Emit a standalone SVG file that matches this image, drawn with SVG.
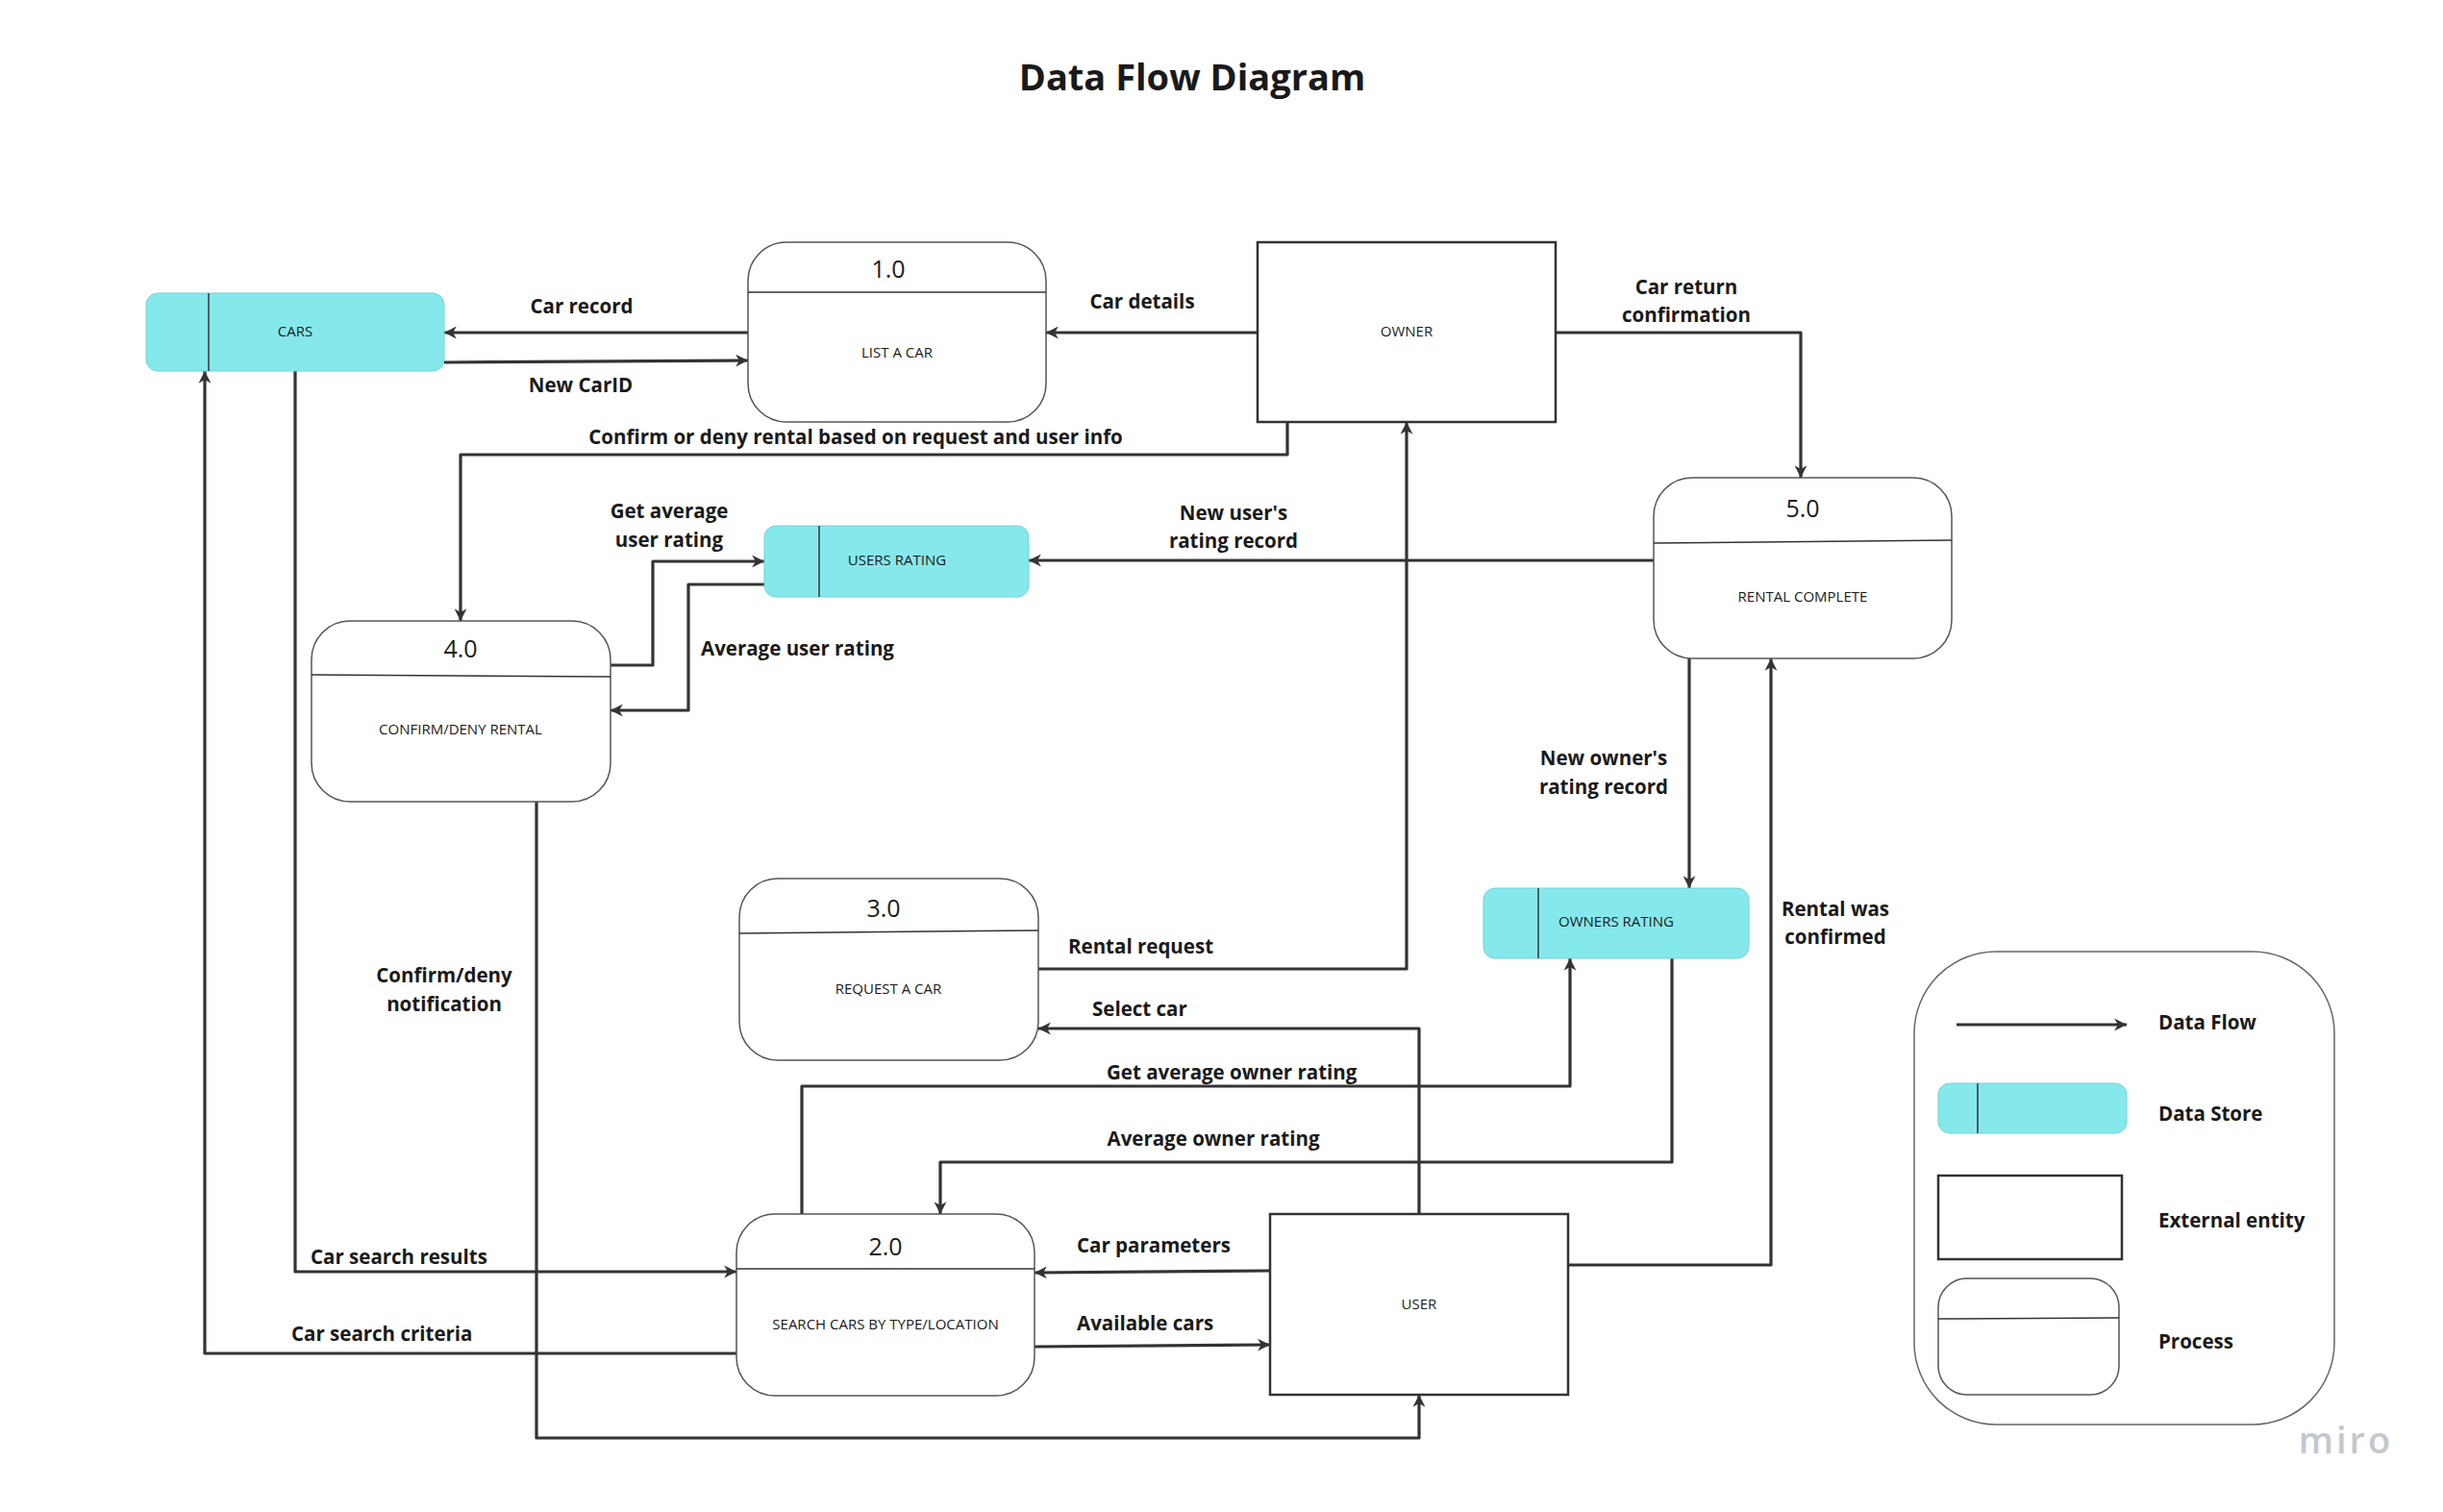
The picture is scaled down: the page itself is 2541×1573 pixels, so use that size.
<svg xmlns="http://www.w3.org/2000/svg" width="2541" height="1573" viewBox="0 0 2541 1573">
<defs>
<marker id="arr" viewBox="0 0 14 14" markerUnits="userSpaceOnUse" markerWidth="15" markerHeight="15" refX="13" refY="7" orient="auto">
<path d="M1,1 L13,7 L1,13 L4.5,7 Z" fill="#333"/>
</marker>
</defs>
<style>
.flow{fill:none;stroke:#333;stroke-width:3.2;stroke-linejoin:round;marker-end:url(#arr)}
.proc{fill:#fff;stroke:#555;stroke-width:1.5}
.div{stroke:#333;stroke-width:1.5}
.ent{fill:#fff;stroke:#333;stroke-width:2.5}
.store{fill:#85e9ec;stroke:#6fd3d8;stroke-width:1}
.num{font-family:"Open Sans","Noto Sans",sans-serif;font-size:25px;fill:#1a1a1a;text-anchor:middle}
.nl{font-family:"Open Sans","Noto Sans",sans-serif;font-size:15px;fill:#1a1a1a;text-anchor:middle}
.lb{font-family:"Open Sans","Noto Sans",sans-serif;font-size:20.5px;font-weight:bold;fill:#1a1a1a}
.c{text-anchor:middle}
</style>
<rect width="2541" height="1573" fill="#fff"/>
<text x="1240" y="94" font-family="'Open Sans','Noto Sans',sans-serif" font-size="38" font-weight="bold" fill="#1a1a1a" text-anchor="middle">Data Flow Diagram</text>

<g id="connectors">
<path class="flow" d="M778,346 L462,346"/>
<path class="flow" d="M462,377 L778,375"/>
<path class="flow" d="M1308,346 L1088,346"/>
<path class="flow" d="M1618,346 L1873,346 L1873,497"/>
<path class="flow" d="M1339,439 L1339,473 L479,473 L479,646"/>
<path class="flow" d="M1720,583 L1070,583"/>
<path class="flow" d="M635,692 L679,692 L679,584 L795,584"/>
<path class="flow" d="M795,608 L716,608 L716,739 L635,739"/>
<path class="flow" d="M1080,1008 L1463,1008 L1463,439"/>
<path class="flow" d="M1476,1263 L1476,1070 L1080,1070"/>
<path class="flow" d="M834,1263 L834,1130 L1633,1130 L1633,997"/>
<path class="flow" d="M1739,997 L1739,1209 L978,1209 L978,1263"/>
<path class="flow" d="M1757,685 L1757,924"/>
<path class="flow" d="M1631,1316 L1842,1316 L1842,685"/>
<path class="flow" d="M307,386 L307,1323 L766,1323"/>
<path class="flow" d="M766,1408 L213,1408 L213,386"/>
<path class="flow" d="M1321,1322 L1076,1324"/>
<path class="flow" d="M1076,1401 L1321,1399"/>
<path class="flow" d="M558,834 L558,1496 L1476,1496 L1476,1451"/>
</g>

<g id="labels">
<text class="lb c" x="605" y="326">Car record</text>
<text class="lb c" x="604" y="408">New CarID</text>
<text class="lb c" x="1188" y="321">Car details</text>
<text class="lb c" x="1754" y="306">Car return</text>
<text class="lb c" x="1754" y="335">confirmation</text>
<text class="lb c" x="890" y="462">Confirm or deny rental based on request and user info</text>
<text class="lb c" x="696" y="539">Get average</text>
<text class="lb c" x="696" y="569">user rating</text>
<text class="lb c" x="1283" y="541">New user's</text>
<text class="lb c" x="1283" y="570">rating record</text>
<text class="lb" x="729" y="682">Average user rating</text>
<text class="lb c" x="1668" y="796">New owner's</text>
<text class="lb c" x="1668" y="826">rating record</text>
<text class="lb c" x="462" y="1022">Confirm/deny</text>
<text class="lb c" x="462" y="1052">notification</text>
<text class="lb" x="1111" y="992">Rental request</text>
<text class="lb" x="1136" y="1057">Select car</text>
<text class="lb" x="1151" y="1123">Get average owner rating</text>
<text class="lb c" x="1262" y="1192">Average owner rating</text>
<text class="lb c" x="1909" y="953">Rental was</text>
<text class="lb c" x="1909" y="982">confirmed</text>
<text class="lb" x="323" y="1315">Car search results</text>
<text class="lb" x="303" y="1395">Car search criteria</text>
<text class="lb" x="1120" y="1303">Car parameters</text>
<text class="lb" x="1120" y="1384">Available cars</text>
</g>

<g id="cars">
<rect class="store" x="152" y="305" width="310" height="81" rx="12"/>
<line class="div" x1="217" y1="305" x2="217" y2="386"/>
<text class="nl" x="307" y="350">CARS</text>
</g>
<g id="p1">
<rect class="proc" x="778" y="252" width="310" height="187" rx="40"/>
<line class="div" x1="778" y1="304" x2="1088" y2="304"/>
<text class="num" x="924" y="289">1.0</text>
<text class="nl" x="933" y="372">LIST A CAR</text>
</g>
<g id="owner">
<rect class="ent" x="1308" y="252" width="310" height="187"/>
<text class="nl" x="1463" y="350">OWNER</text>
</g>
<g id="p5">
<rect class="proc" x="1720" y="497" width="310" height="188" rx="40"/>
<line class="div" x1="1720" y1="565" x2="2030" y2="562"/>
<text class="num" x="1875" y="538">5.0</text>
<text class="nl" x="1875" y="626">RENTAL COMPLETE</text>
</g>
<g id="users-rating">
<rect class="store" x="795" y="547" width="275" height="74" rx="12"/>
<line class="div" x1="852" y1="547" x2="852" y2="621"/>
<text class="nl" x="933" y="588">USERS RATING</text>
</g>
<g id="p4">
<rect class="proc" x="324" y="646" width="311" height="188" rx="40"/>
<line class="div" x1="324" y1="702" x2="635" y2="704"/>
<text class="num" x="479" y="684">4.0</text>
<text class="nl" x="479" y="764">CONFIRM/DENY RENTAL</text>
</g>
<g id="p3">
<rect class="proc" x="769" y="914" width="311" height="189" rx="40"/>
<line class="div" x1="769" y1="971" x2="1080" y2="968"/>
<text class="num" x="919" y="954">3.0</text>
<text class="nl" x="924" y="1034">REQUEST A CAR</text>
</g>
<g id="owners-rating">
<rect class="store" x="1543" y="924" width="276" height="73" rx="12"/>
<line class="div" x1="1600" y1="924" x2="1600" y2="997"/>
<text class="nl" x="1681" y="964">OWNERS RATING</text>
</g>
<g id="p2">
<rect class="proc" x="766" y="1263" width="310" height="189" rx="40"/>
<line class="div" x1="766" y1="1320" x2="1076" y2="1320"/>
<text class="num" x="921" y="1306">2.0</text>
<text class="nl" x="921" y="1383">SEARCH CARS BY TYPE/LOCATION</text>
</g>
<g id="user">
<rect class="ent" x="1321" y="1263" width="310" height="188"/>
<text class="nl" x="1476" y="1362">USER</text>
</g>

<g id="legend">
<rect x="1991" y="990" width="437" height="492" rx="85" fill="none" stroke="#666" stroke-width="1.5"/>
<path class="flow" d="M2035,1066 L2212,1066"/>
<rect class="store" x="2016" y="1127" width="196" height="52" rx="12"/>
<line class="div" x1="2057" y1="1127" x2="2057" y2="1179"/>
<rect class="ent" x="2016" y="1223" width="191" height="87"/>
<rect class="proc" x="2016" y="1330" width="188" height="121" rx="30"/>
<line class="div" x1="2016" y1="1372" x2="2204" y2="1371"/>
<text class="lb" x="2245" y="1071">Data Flow</text>
<text class="lb" x="2245" y="1166">Data Store</text>
<text class="lb" x="2245" y="1277">External entity</text>
<text class="lb" x="2245" y="1403">Process</text>
</g>
<text x="2440" y="1512" font-family="'Open Sans','Noto Sans',sans-serif" font-size="38" font-weight="600" fill="#c3c7cf" text-anchor="middle" letter-spacing="3">miro</text>
</svg>
